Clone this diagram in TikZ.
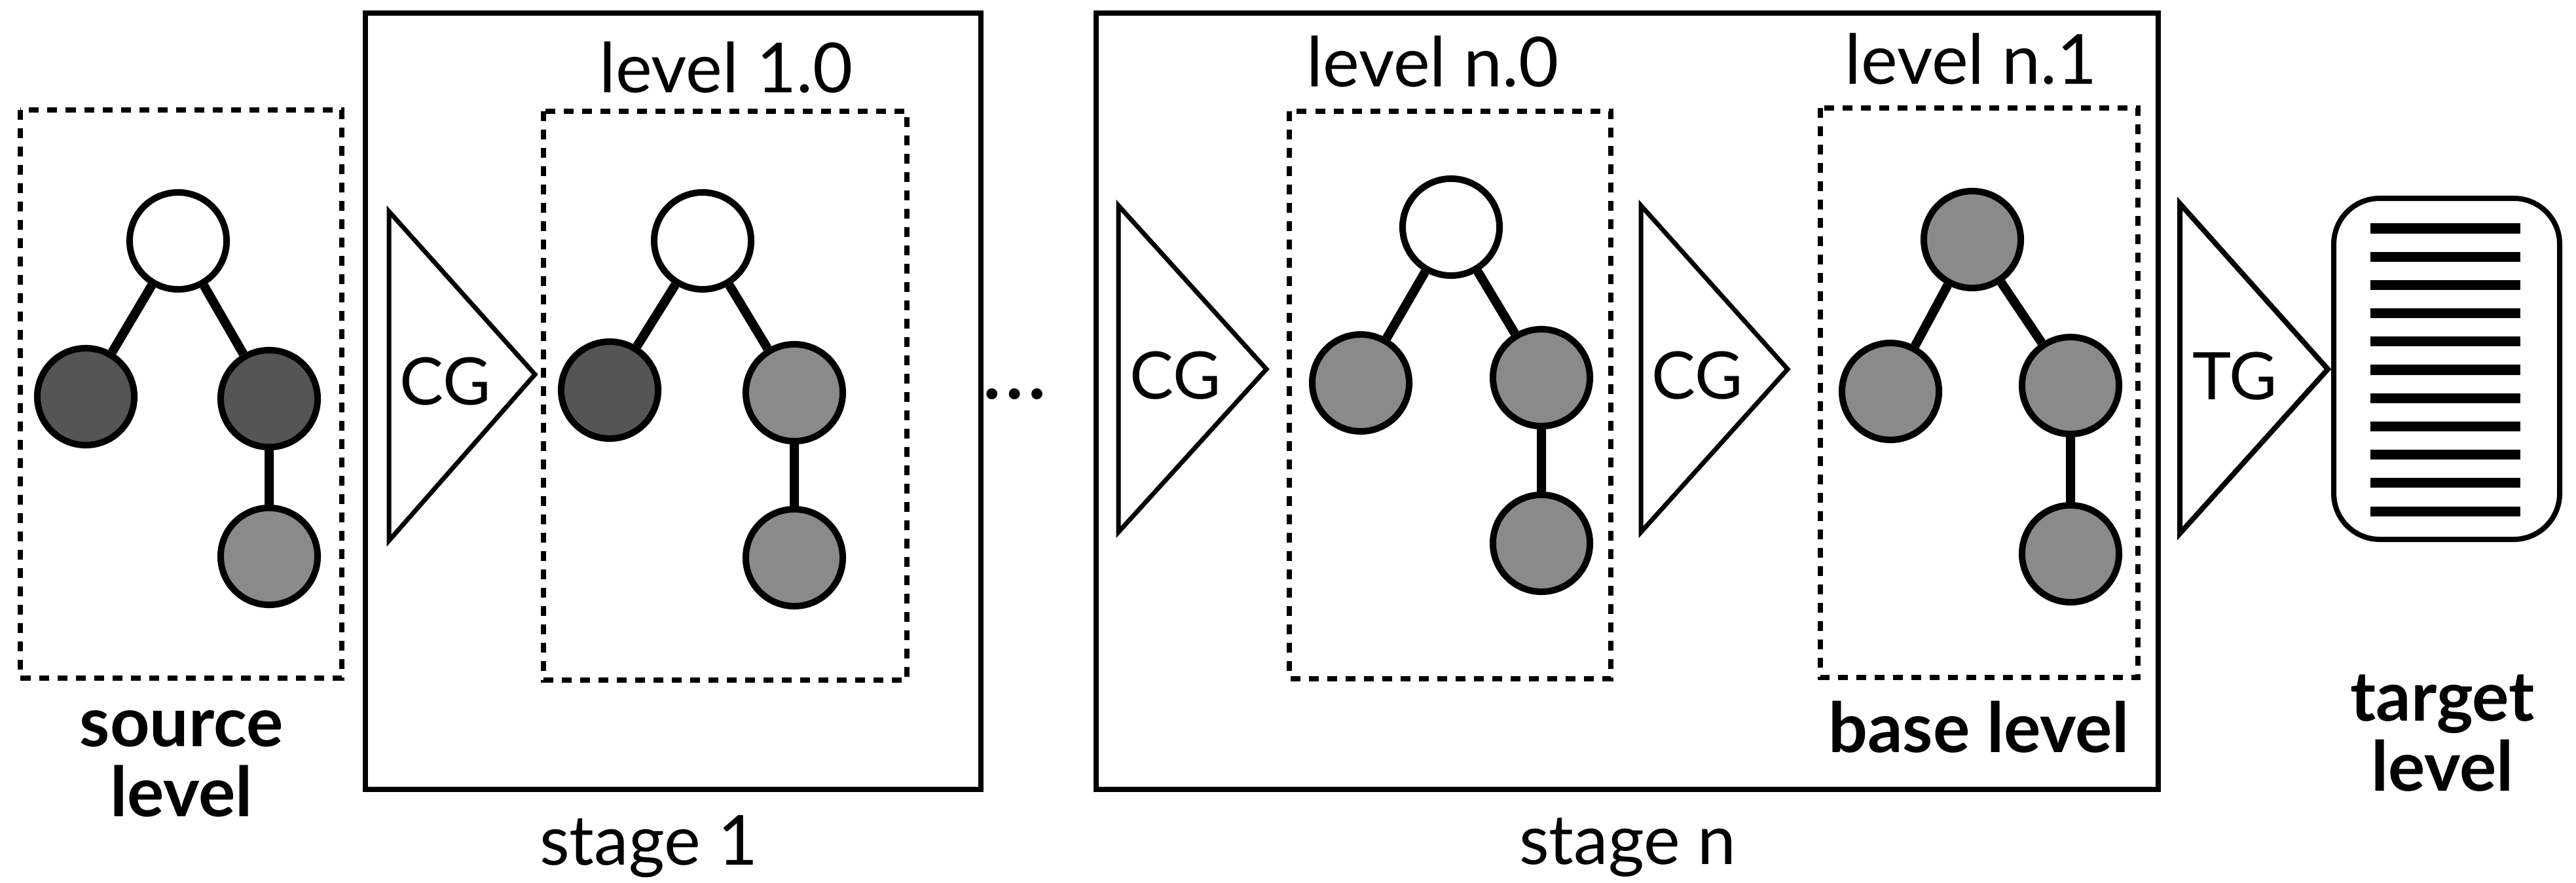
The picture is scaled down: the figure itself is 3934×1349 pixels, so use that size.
\documentclass[tikz,border=0pt]{standalone}
\usepackage{fontspec}
\setmainfont{Lato}
\definecolor{darkfill}{RGB}{85,85,85}
\definecolor{lightfill}{RGB}{138,138,138}
\tikzset{
 treenode/.style={circle, draw, line width=0.1cm, minimum size=1.48cm, inner sep=0pt},
 wnode/.style={treenode, fill=white},
 dnode/.style={treenode, fill=darkfill},
 lnode/.style={treenode, fill=lightfill},
 treeedge/.style={line width=0.14cm},
 levelbox/.style={line width=0.08cm, dash pattern=on 0.15cm off 0.13cm},
 stagebox/.style={line width=0.08cm},
 genarrow/.style={line width=0.07cm, line join=miter},
 docline/.style={line width=0.15cm},
 lbl/.style={font=\fontsize{30}{36}\selectfont, anchor=base, inner sep=0pt},
 boldlbl/.style={font=\bfseries\fontsize{30}{27.6}\selectfont, anchor=base, inner sep=0pt},
 genlbl/.style={font=\fontsize{28.5}{32}\selectfont, anchor=base, inner sep=0pt},
}
\begin{document}
\begin{tikzpicture}[x=0.01cm, y=-0.01cm]
\useasboundingbox (0,0) rectangle (3934,1349);
% source level
\draw[levelbox] (31,168) rectangle (522,1036);
\node[wnode] (s0) at (272,368) {};
\node[dnode] (s1) at (131,606) {};
\node[dnode] (s2) at (411,609) {};
\node[lnode] (s3) at (411,850) {};
\draw[treeedge] (s0) -- (s1) (s0) -- (s2) (s2) -- (s3);
\node[boldlbl] (srclbl) at (277,1140) {\begin{tabular}[t]{@{}c@{}}source\\level\end{tabular}};
% stage 1
\draw[stagebox] (558,20) rectangle (1498,1206);
\node[lbl] (st1) at (991,1321) {stage 1};
\draw[genarrow] (594,323) -- (594,826) -- (817,572) -- cycle;
\node[genlbl] (cg1) at (680,618) {CG};
\draw[levelbox] (830,170) rectangle (1385,1039);
\node[lbl] (l10) at (1109,142) {level 1.0};
\node[wnode] (a0) at (1073,368) {};
\node[dnode] (a1) at (931,596) {};
\node[lnode] (a2) at (1213,600) {};
\node[lnode] (a3) at (1213,852) {};
\draw[treeedge] (a0) -- (a1) (a0) -- (a2) (a2) -- (a3);
% dots
\node[lbl, font=\fontsize{38}{44}\selectfont] (dots) at (1550,609) {…};
% stage n
\draw[stagebox] (1674,20) rectangle (3296,1206);
\node[lbl] (stn) at (2486,1320) {stage n};
\draw[genarrow] (1708,314) -- (1708,813) -- (1934,564) -- cycle;
\node[genlbl] (cg2) at (1795,609) {CG};
\draw[levelbox] (1969,170) rectangle (2460,1037);
\node[lbl] (ln0) at (2188,133) {level n.0};
\node[wnode] (b0) at (2216,347) {};
\node[lnode] (b1) at (2078,585) {};
\node[lnode] (b2) at (2354,577) {};
\node[lnode] (b3) at (2354,830) {};
\draw[treeedge] (b0) -- (b1) (b0) -- (b2) (b2) -- (b3);
\draw[genarrow] (2506,314) -- (2506,813) -- (2730,564) -- cycle;
\node[genlbl] (cg3) at (2592,609) {CG};
\draw[levelbox] (2780,165) rectangle (3265,1035);
\node[lbl] (ln1) at (3010,129) {level n.1};
\node[lnode] (c0) at (3012,366) {};
\node[lnode] (c1) at (2887,598) {};
\node[lnode] (c2) at (3162,589) {};
\node[lnode] (c3) at (3162,846) {};
\draw[treeedge] (c0) -- (c1) (c0) -- (c2) (c2) -- (c3);
\node[boldlbl] (base) at (3022,1149) {base level};
% target
\draw[genarrow, line width=0.08cm] (3329,311) -- (3329,815) -- (3555,564) -- cycle;
\node[genlbl] (tg) at (3413,610) {TG};
\draw[line width=0.08cm, rounded corners=0.7cm] (3564,303) rectangle (3909,824);
\foreach \k in {0,...,10} \draw[docline] (3620,{349+43.2*\k}) -- (3849,{349+43.2*\k});
\node[boldlbl] (tgtlbl) at (3730,1101) {\begin{tabular}[t]{@{}c@{}}target\\level\end{tabular}};
\end{tikzpicture}
\end{document}
